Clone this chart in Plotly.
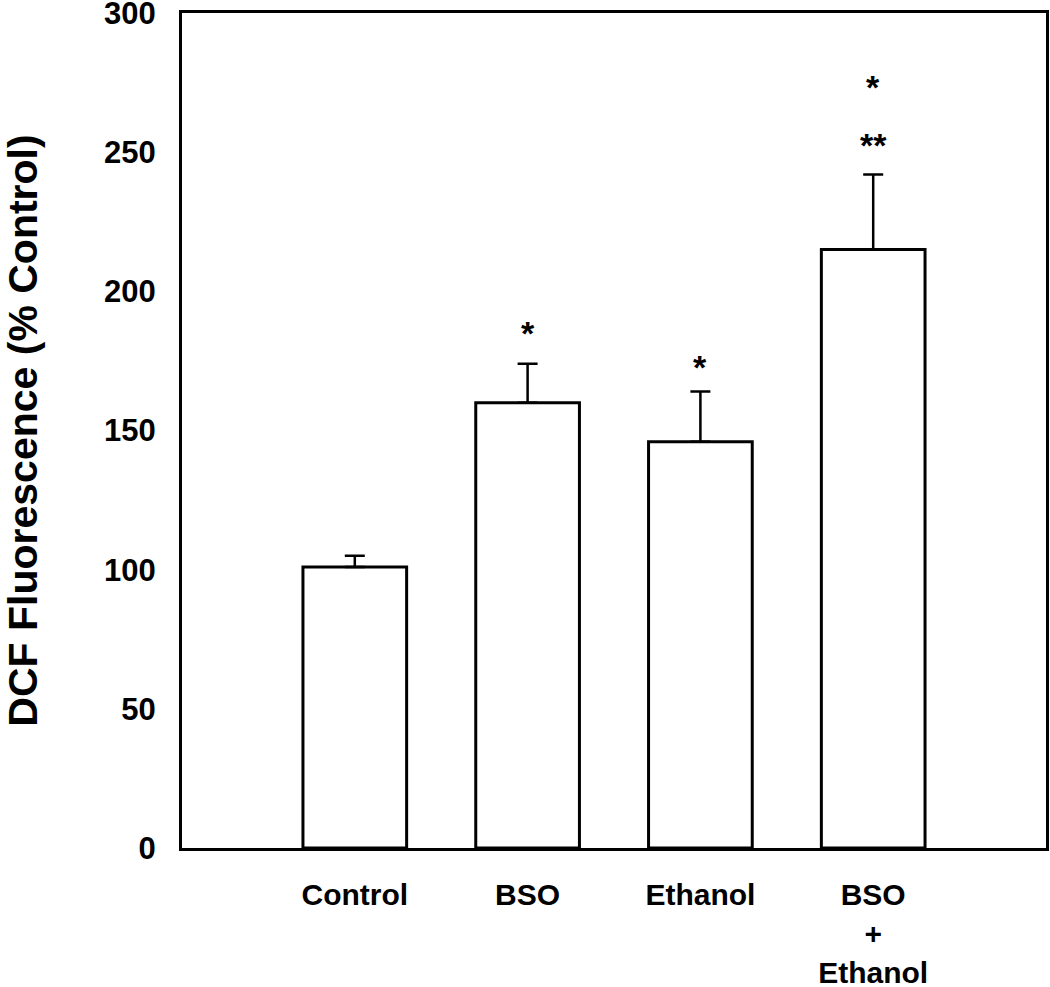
import plotly.graph_objects as go

categories = ["Control", "BSO", "Ethanol", "BSO<br>+<br>Ethanol"]
values = [101, 160, 146, 215]
errors = [4, 14, 18, 27]
y_ticks = [0, 50, 100, 150, 200, 250, 300]

FONT = "Liberation Sans, Arial, sans-serif"
positions = list(range(len(categories)))

fig = go.Figure()
fig.add_trace(go.Bar(
    x=positions, y=values, width=0.6,
    marker=dict(color="white", line=dict(color="black", width=3)),
    error_y=dict(type="data", symmetric=False, array=errors,
                 arrayminus=[0] * len(errors),
                 color="black", thickness=2.5, width=10),
    showlegend=False, hoverinfo="skip",
))

# significance asterisks (pixel offset above the error-bar cap)
star_sets = [[], ["*"], ["*"], ["**", "*"]]
star_offsets = [[], [31], [25], [29, 87]]
for i, (stars, offs) in enumerate(zip(star_sets, star_offsets)):
    for s, off in zip(stars, offs):
        fig.add_annotation(
            x=positions[i], y=values[i] + errors[i], xref="x", yref="y",
            text=f"<b>{s}</b>", showarrow=False, yanchor="middle",
            yshift=off, font=dict(family=FONT, size=34, color="black"),
        )

fig.update_layout(
    width=1050, height=987,
    margin=dict(l=182, r=4, t=13, b=139),
    plot_bgcolor="white", paper_bgcolor="white",
    font=dict(family=FONT, color="black"),
)
fig.update_xaxes(
    range=[-1, 4], tickvals=positions,
    ticktext=[f"<b>{c}</b>" for c in categories],
    tickfont=dict(family=FONT, size=30, color="black"),
    showline=True, linecolor="black", linewidth=3, mirror=True,
    showgrid=False, zeroline=False, ticks="", ticklabelstandoff=18,
    ticklabeloverflow="allow", automargin=False,
)
fig.update_yaxes(
    range=[0, 300], tickvals=y_ticks,
    ticktext=[f"<b>{t}</b>" for t in y_ticks],
    tickfont=dict(family=FONT, size=31, color="black"),
    showline=True, linecolor="black", linewidth=3, mirror=True,
    showgrid=False, zeroline=False, ticks="", ticklabelstandoff=17,
    ticklabeloverflow="allow", automargin=False,
    title=dict(text="<b>DCF Fluorescence (% Control)</b>",
               font=dict(family=FONT, size=41, color="black"), standoff=55),
)

fig.write_html("out.html", config={"displayModeBar": False})
with open("out.html", encoding="utf-8") as f:
    html = f.read()
html = html.replace("<head>", "<head><style>html,body{margin:0;padding:0;overflow:hidden;}</style>", 1)
with open("out.html", "w", encoding="utf-8") as f:
    f.write(html)
